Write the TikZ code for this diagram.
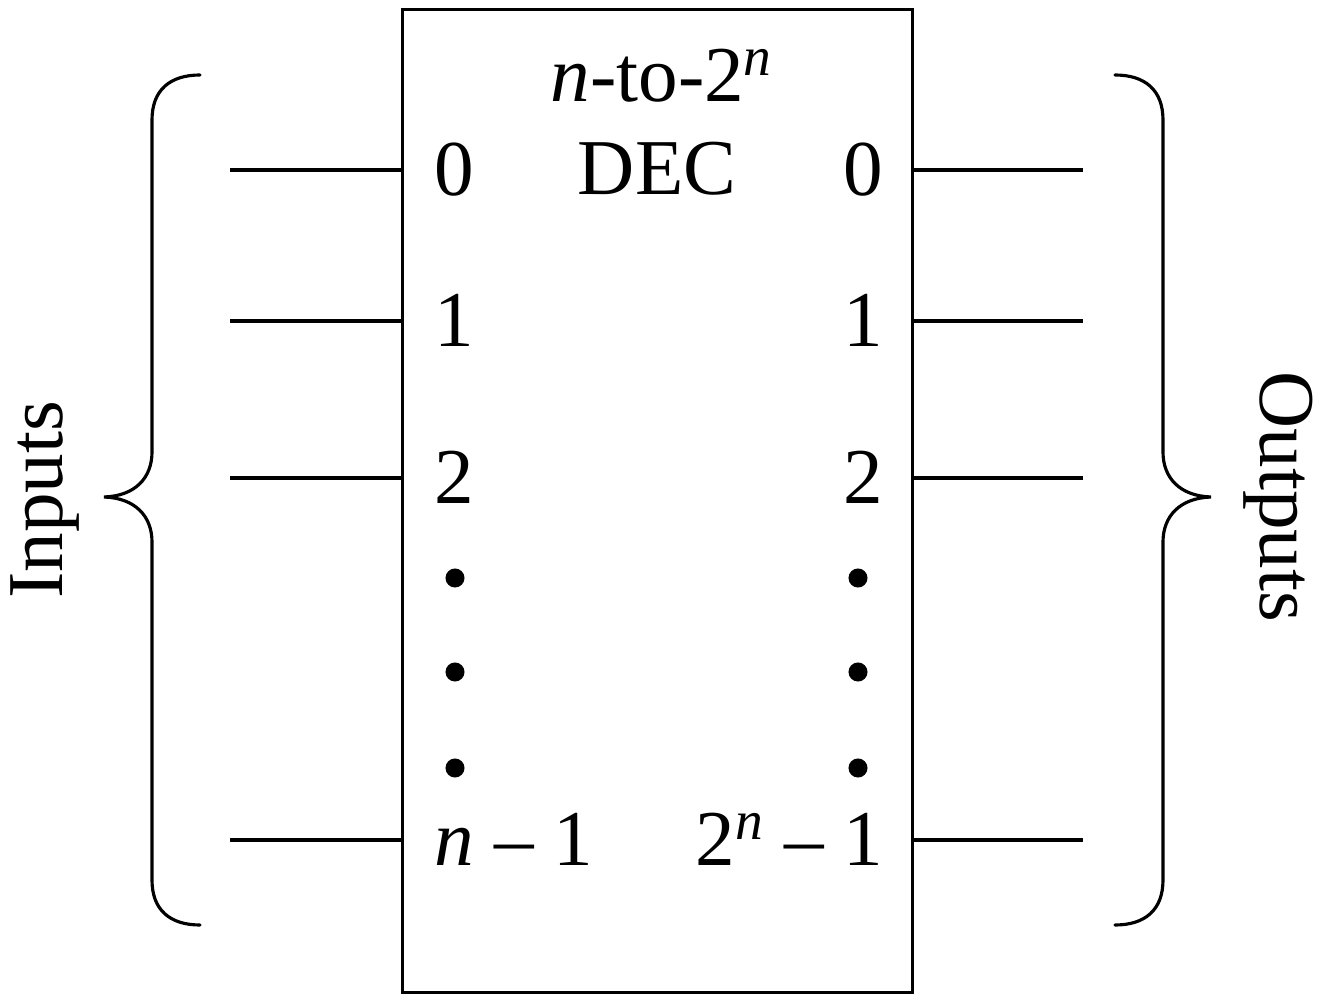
\documentclass[tikz,border=0pt]{standalone}
\usepackage{fontspec}
\setmainfont{Liberation Serif}
\tikzset{
  pinlabel/.style={inner sep=0pt,font=\fontsize{22.5}{27}\selectfont},
  wire/.style={line width=0.9pt},
  bigbrace/.style={line width=0.9pt,line cap=round}
}
\begin{document}
\begin{tikzpicture}[x=0.01cm,y=-0.01cm]
  \useasboundingbox (0,0) rectangle (1317,994);
  \node[draw,line width=0.9pt,inner sep=0pt,minimum width=5.09cm,minimum height=9.82cm] (dec) at (657.5,501) {};
  \node[pinlabel,anchor=base] (title) at (662,102) {\textit{n}-to-2\textsuperscript{\textit{n}}};
  \node[pinlabel,anchor=base] (name) at (657,195) {DEC};
  % pins
  \foreach \y/\l/\r in {170/0/0, 321/1/1, 478/2/2, 840/{\textit{n} – 1}/{2\textsuperscript{\textit{n}} – 1}} {
    \coordinate (ia\y) at (230,\y);
    \coordinate (ob\y) at (1083,\y);
    \draw[wire] (ia\y) -- (ia\y -| dec.west);
    \draw[wire] (dec.east |- ob\y) -- (ob\y);
    \node[pinlabel,anchor=base west] (inl\y) at (434,\y+26) {\l};
    \node[pinlabel,anchor=base east] (outl\y) at (884,\y+26) {\r};
  }
  \foreach \y in {578,672,768} {
    \fill (455,\y) circle (0.095cm);
    \fill (858,\y) circle (0.095cm);
  }
  % braces
  \draw[bigbrace] (200,75) .. controls (170,75) and (152,90) .. (152,120) -- (152,452)
    .. controls (152,478) and (135,496) .. (104,497) .. controls (135,498) and (152,516) .. (152,542)
    -- (152,880) .. controls (152,910) and (170,925) .. (200,925);
  \draw[bigbrace] (1115,75) .. controls (1145,75) and (1163,90) .. (1163,120) -- (1163,452)
    .. controls (1163,478) and (1180,496) .. (1211,497) .. controls (1180,498) and (1163,516) .. (1163,542)
    -- (1163,880) .. controls (1163,910) and (1145,925) .. (1115,925);
  \node[pinlabel,rotate=90] (inputs) at (45,500) {Inputs};
  \node[pinlabel,rotate=-90] (outputs) at (1278,497) {Outputs};
\end{tikzpicture}
\end{document}
